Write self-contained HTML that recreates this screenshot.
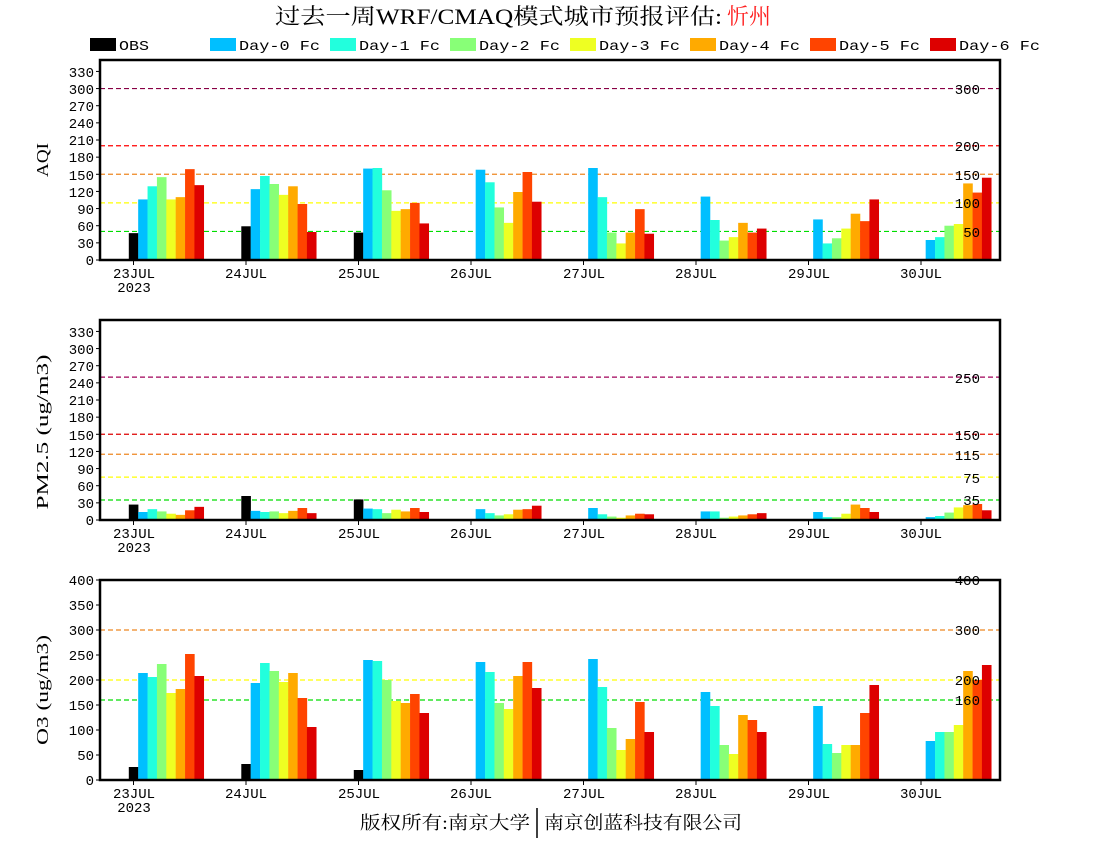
<!DOCTYPE html>
<html><head><meta charset="utf-8"><style>
body{margin:0;background:#fff;width:1100px;height:850px;overflow:hidden}
svg text{font-family:"Liberation Mono","Noto Sans CJK SC",monospace;font-size:14px;fill:#000}
</style></head><body>
<svg id="s" width="1100" height="850" xmlns="http://www.w3.org/2000/svg">
<text x="275" y="24" textLength="447" lengthAdjust="spacingAndGlyphs" style="font-size:22px;font-family:'Liberation Serif','Noto Serif CJK SC',serif">过去一周WRF/CMAQ模式城市预报评估:</text><text x="727" y="24" textLength="44" lengthAdjust="spacingAndGlyphs" style="font-size:22px;fill:#ff2020;font-family:'Liberation Serif','Noto Serif CJK SC',serif">忻州</text>
<g>
<rect x="90" y="38" width="26" height="13" fill="#000"/><text x="119" y="50" textLength="30" lengthAdjust="spacingAndGlyphs">OBS</text>
<rect x="210" y="38" width="26" height="13" fill="#00bfff"/><text x="239" y="50" textLength="81" lengthAdjust="spacingAndGlyphs">Day-0 Fc</text>
<rect x="330" y="38" width="26" height="13" fill="#22ffdd"/><text x="359" y="50" textLength="81" lengthAdjust="spacingAndGlyphs">Day-1 Fc</text>
<rect x="450" y="38" width="26" height="13" fill="#88ff77"/><text x="479" y="50" textLength="81" lengthAdjust="spacingAndGlyphs">Day-2 Fc</text>
<rect x="570" y="38" width="26" height="13" fill="#eeff22"/><text x="599" y="50" textLength="81" lengthAdjust="spacingAndGlyphs">Day-3 Fc</text>
<rect x="690" y="38" width="26" height="13" fill="#ffaa00"/><text x="719" y="50" textLength="81" lengthAdjust="spacingAndGlyphs">Day-4 Fc</text>
<rect x="810" y="38" width="26" height="13" fill="#ff4400"/><text x="839" y="50" textLength="81" lengthAdjust="spacingAndGlyphs">Day-5 Fc</text>
<rect x="930" y="38" width="26" height="13" fill="#dd0000"/><text x="959" y="50" textLength="81" lengthAdjust="spacingAndGlyphs">Day-6 Fc</text>
</g>
<g id="plots"></g>
<g text-anchor="end">
<text x="94" y="265">0</text><text x="94" y="248">30</text><text x="94" y="231">60</text><text x="94" y="214">90</text><text x="94" y="197">120</text><text x="94" y="180">150</text><text x="94" y="162">180</text><text x="94" y="145">210</text><text x="94" y="128">240</text><text x="94" y="111">270</text><text x="94" y="94">300</text><text x="94" y="77">330</text>
<text x="94" y="525">0</text><text x="94" y="508">30</text><text x="94" y="491">60</text><text x="94" y="474">90</text><text x="94" y="457">120</text><text x="94" y="440">150</text><text x="94" y="422">180</text><text x="94" y="405">210</text><text x="94" y="388">240</text><text x="94" y="371">270</text><text x="94" y="354">300</text><text x="94" y="337">330</text>
<text x="94" y="785">0</text><text x="94" y="760">50</text><text x="94" y="735">100</text><text x="94" y="710">150</text><text x="94" y="685">200</text><text x="94" y="660">250</text><text x="94" y="635">300</text><text x="94" y="610">350</text><text x="94" y="585">400</text>
<text x="980" y="94">300</text><text x="980" y="151">200</text><text x="980" y="180">150</text><text x="980" y="208">100</text><text x="980" y="237">50</text>
<text x="980" y="383">250</text><text x="980" y="440">150</text><text x="980" y="460">115</text><text x="980" y="483">75</text><text x="980" y="505">35</text>
<text x="980" y="585">400</text><text x="980" y="635">300</text><text x="980" y="685">200</text><text x="980" y="705">160</text>
</g>
<g text-anchor="middle">
<text x="134" y="278">23JUL</text><text x="134" y="292">2023</text><text x="246" y="278">24JUL</text><text x="359" y="278">25JUL</text><text x="471" y="278">26JUL</text><text x="584" y="278">27JUL</text><text x="696" y="278">28JUL</text><text x="809" y="278">29JUL</text><text x="921" y="278">30JUL</text>
<text x="134" y="538">23JUL</text><text x="134" y="552">2023</text><text x="246" y="538">24JUL</text><text x="359" y="538">25JUL</text><text x="471" y="538">26JUL</text><text x="584" y="538">27JUL</text><text x="696" y="538">28JUL</text><text x="809" y="538">29JUL</text><text x="921" y="538">30JUL</text>
<text x="134" y="798">23JUL</text><text x="134" y="812">2023</text><text x="246" y="798">24JUL</text><text x="359" y="798">25JUL</text><text x="471" y="798">26JUL</text><text x="584" y="798">27JUL</text><text x="696" y="798">28JUL</text><text x="809" y="798">29JUL</text><text x="921" y="798">30JUL</text>
<text style="font-size:17px;font-family:'Liberation Serif',serif" textLength="34" lengthAdjust="spacingAndGlyphs" transform="translate(48,160) rotate(-90)">AQI</text>
<text style="font-size:17px;font-family:'Liberation Serif',serif" textLength="155" lengthAdjust="spacingAndGlyphs" transform="translate(48,432) rotate(-90)">PM2.5 (ug/m3)</text>
<text style="font-size:17px;font-family:'Liberation Serif',serif" textLength="110" lengthAdjust="spacingAndGlyphs" transform="translate(48,690) rotate(-90)">O3 (ug/m3)</text>
</g>
<text x="360" y="829" textLength="170" lengthAdjust="spacingAndGlyphs" style="font-size:18px;font-family:'Liberation Serif','Noto Serif CJK SC',serif">版权所有:南京大学</text>
<line x1="537" y1="808" x2="537" y2="838" stroke="#000" stroke-width="1.5"/>
<text x="544" y="829" textLength="198" lengthAdjust="spacingAndGlyphs" style="font-size:18px;font-family:'Liberation Serif','Noto Serif CJK SC',serif">南京创蓝科技有限公司</text>
</svg>
<script>
var C=["#000","#00bfff","#22ffdd","#88ff77","#eeff22","#ffaa00","#ff4400","#dd0000"];
var P=[
{top:60,max:350,lines:[[50,"#00dd00"],[100,"#ffff00"],[150,"#ee8822"],[200,"#ff0000"],[300,"#880044"]],
d:[[47,106,129,145,106,110,159,131],[59,124,147,133,114,129,98,49],[48,160,161,122,86,89,100,64],[0,158,136,92,65,119,154,102],[0,161,110,48,29,48,89,46],[0,111,70,34,40,65,48,55],[0,71,29,38,55,81,68,106],[0,35,40,60,63,134,118,144]]},
{top:320,max:350,lines:[[35,"#00dd00"],[75,"#ffff00"],[115,"#ee8822"],[150,"#dd0000"],[250,"#a0005a"]],
d:[[27,14,19,15,11,9,17,23],[42,16,14,15,12,16,21,12],[36,20,19,12,18,15,21,14],[0,19,12,8,10,18,19,25],[0,21,10,6,4,8,11,10],[0,15,15,4,6,8,10,12],[0,14,5,5,11,27,21,14],[0,5,7,13,22,26,28,17]]},
{top:580,max:400,lines:[[160,"#00dd00"],[200,"#ffff00"],[300,"#ee8822"],[400,"#ff0000"]],
d:[[26,214,206,232,174,182,252,208],[32,194,234,218,196,214,164,106],[20,240,238,200,158,154,172,134],[0,236,216,154,142,208,236,184],[0,242,186,104,60,82,156,96],[0,176,148,70,52,130,120,96],[0,148,72,54,70,70,134,190],[0,78,96,96,110,218,200,230]]}];
var h="";
P.forEach(function(p){
 var b=p.top+200,s=200/p.max;
 p.lines.forEach(function(l){var y=b-l[0]*s;h+='<line x1="100" x2="1000" y1="'+y+'" y2="'+y+'" stroke="'+l[1]+'" stroke-width="1.2" stroke-dasharray="5,3"/>';});
 p.d.forEach(function(day,i){day.forEach(function(v,k){if(v<=0)return;var x=128.8+112.5*i+9.375*k;h+='<rect x="'+x+'" y="'+(b-v*s)+'" width="9.6" height="'+(v*s)+'" fill="'+C[k]+'"/>';});});
 for(var v=0;v<=p.max;v+=(p.max==400?50:30)){var y=b-v*s;h+='<line x1="96" x2="100" y1="'+y+'" y2="'+y+'" stroke="#000"/>';}
 for(var i=0;i<8;i++){var x=133.5+112.5*i;h+='<line x1="'+x+'" x2="'+x+'" y1="'+b+'" y2="'+(b+5)+'" stroke="#000"/>';}
 h+='<rect x="100" y="'+p.top+'" width="900" height="200" fill="none" stroke="#000" stroke-width="2.5"/>';
});
document.getElementById("plots").innerHTML=h;
</script>
</body></html>
